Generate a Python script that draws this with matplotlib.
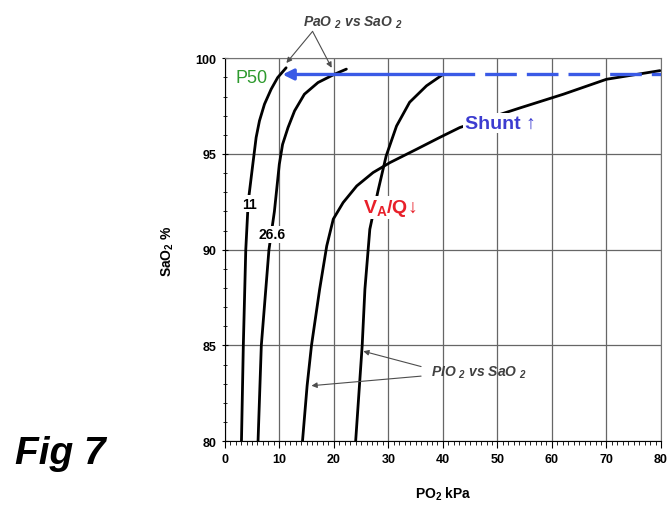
import numpy as np
import matplotlib.pyplot as plt
from matplotlib.ticker import MultipleLocator

plt.rcParams['font.family'] = ['Liberation Sans', 'DejaVu Sans']
plt.rcParams['mathtext.default'] = 'regular'

# PaO2 vs SaO2, FIO2 11 kPa
pa11_x = [3.06, 3.4, 3.85, 4.3, 5.14, 5.75, 6.36, 7.28, 8.5, 9.7, 11.25]
pa11_y = [80, 85, 90, 92.5, 94.46, 95.86, 96.73, 97.6, 98.38, 98.99, 99.5]

# PaO2 vs SaO2, FIO2 26.6 kPa
pa26_x = [6.1, 6.7, 8.1, 9.1, 10.0, 10.6, 11.6, 12.8, 14.6, 17.1, 20.1, 22.3]
pa26_y = [80, 85, 90, 92.0, 94.46, 95.5, 96.38, 97.25, 98.12, 98.73, 99.16, 99.43]

# PIO2 vs SaO2, VA/Q curve running into the shunt curve
vq_x = [14.25, 15.1, 15.9, 17.4, 18.7, 19.9, 21.7, 24.2, 27.2, 30.3, 35.2,
        39.4, 43.1, 54.1, 62.1, 70.0, 79.8]
vq_y = [80, 82.9, 85, 87.94, 90.2, 91.6, 92.46, 93.33, 94.03, 94.55, 95.25,
        95.86, 96.38, 97.4, 98.12, 98.9, 99.35]

# PIO2 vs SaO2, second curve ending at 40 kPa
pi_x = [24.0, 25.2, 25.7, 26.6, 28.1, 29.6, 31.5, 33.9, 37.0, 40.05]
pi_y = [80, 85, 87.94, 91.07, 93.07, 94.9, 96.46, 97.7, 98.56, 99.16]

p50_y = 99.15

fig = plt.figure(figsize=(6.67, 5.06), dpi=100)
ax = fig.add_axes([0.337, 0.126, 0.654, 0.757])

for xs, ys in [(pa11_x, pa11_y), (pa26_x, pa26_y), (vq_x, vq_y), (pi_x, pi_y)]:
    ax.plot(xs, ys, color='black', lw=2.0, solid_capstyle='round',
            solid_joinstyle='round', zorder=3)

# P50 line: solid arrow back to 11 kPa curve, dashed out to 80
blue = '#3a5ae6'
ax.annotate('', xy=(10.6, p50_y), xytext=(40, p50_y),
            arrowprops=dict(arrowstyle='-|>', color=blue, lw=2.4,
                            mutation_scale=16, shrinkA=0, shrinkB=0), zorder=4)
ax.plot([40, 80], [p50_y, p50_y], color=blue, lw=2.4, ls=(0, (9.5, 3)), zorder=4)

ax.set_xlim(0, 80)
ax.set_ylim(80, 100)
ax.xaxis.set_major_locator(MultipleLocator(10))
ax.xaxis.set_minor_locator(MultipleLocator(1))
ax.yaxis.set_major_locator(MultipleLocator(5))
ax.yaxis.set_minor_locator(MultipleLocator(1))
ax.grid(True, which='major', color='0.4', lw=0.9)
ax.set_axisbelow(True)
ax.tick_params(axis='x', which='both', direction='out')
ax.tick_params(axis='y', which='both', direction='inout')
ax.tick_params(which='major', length=5, labelsize=9)
ax.tick_params(which='minor', length=3)
for sp in ['top', 'right']:
    ax.spines[sp].set_color('0.45')
for lab in ax.get_xticklabels() + ax.get_yticklabels():
    lab.set_fontweight('bold')

ax.set_xlabel('PO$_2$ kPa', fontsize=10, fontweight='bold', labelpad=14)
ax.set_ylabel('SaO$_2$ %', fontsize=10, fontweight='bold', labelpad=14)

box = dict(facecolor='white', edgecolor='none', pad=1)
ax.text(4.6, 92.4, '11', fontsize=10, fontweight='bold', ha='center', va='center',
        bbox=box, zorder=5)
ax.text(8.6, 90.8, '26.6', fontsize=10, fontweight='bold', ha='center', va='center',
        bbox=box, zorder=5)
ax.text(4.9, 99.0, 'P50', fontsize=13, color='#2e9a2e', ha='center', va='center',
        zorder=5)
ax.text(30.3, 92.2, 'V$_A$/Q↓', fontsize=14, fontweight='bold', color='#e8202a',
        ha='center', va='center', bbox=box, zorder=5)
ax.text(50.5, 96.6, 'Shunt ↑', fontsize=14, fontweight='bold', color='#3c3cd0',
        ha='center', va='center', bbox=box, zorder=5)

arr = dict(arrowstyle='-|>', color='0.3', lw=0.8, mutation_scale=8,
           shrinkA=0, shrinkB=0)
ax.text(23.5, 101.9, 'PaO $_2$ vs SaO $_2$', fontsize=10, fontweight='bold',
        style='italic', color='0.25', ha='center', va='center', clip_on=False)
ax.annotate('', xy=(11.3, 99.75), xytext=(16.1, 101.4), arrowprops=arr,
            annotation_clip=False)
ax.annotate('', xy=(19.6, 99.5), xytext=(16.1, 101.4), arrowprops=arr,
            annotation_clip=False)

ax.text(46.6, 83.6, 'PIO $_2$ vs SaO $_2$', fontsize=10, fontweight='bold',
        style='italic', color='0.25', ha='center', va='center')
ax.annotate('', xy=(25.4, 84.7), xytext=(36.0, 83.9), arrowprops=arr)
ax.annotate('', xy=(15.9, 82.9), xytext=(36.0, 83.4), arrowprops=arr)

fig.text(0.09, 0.103, 'Fig 7', fontsize=28, fontweight='bold', style='italic',
         ha='center', va='center')

fig.savefig('out.png', dpi=100)
